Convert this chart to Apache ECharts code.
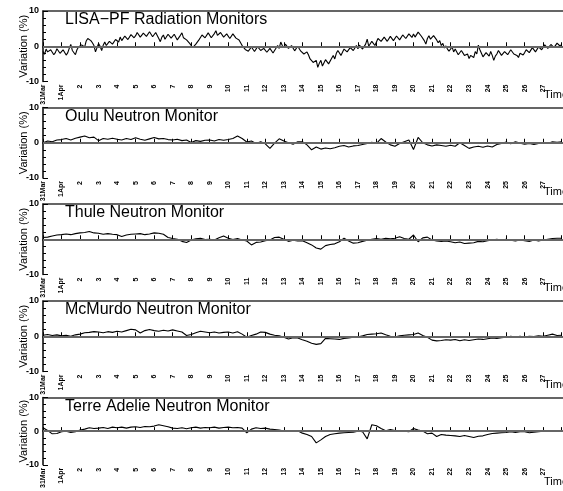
<!DOCTYPE html>
<html><head><meta charset="utf-8">
<script src="https://cdn.jsdelivr.net/npm/echarts@6/dist/echarts.min.js"></script>
<style>html,body{margin:0;padding:0;background:#fff}#c{width:563px;height:491px}</style>
</head><body><div id="c"></div>
<script>
// x tick labels (day 0 = 31 Mar)
const tickLabels = ['31Mar','1Apr','2','3','4','5','6','7','8','9','10','11','12','13','14','15','16','17','18','19','20','21','22','23','24','25','26','27'];
const titles = ['LISA\u2212PF Radiation Monitors','Oulu Neutron Monitor','Thule Neutron Monitor','McMurdo Neutron Monitor','Terre Adelie Neutron Monitor'];

// LISA-PF: 12 samples per day
const lisa = [
-1.5,-2.3,-0.8,-1.6,-2.0,-1.0,-1.2,-2.4,-1.8,-0.7,-1.0,-2.0,
-2.2,-1.0,-1.3,-2.5,-1.9,-0.6,0.5,-1.2,-1.6,-2.4,-1.0,-0.2,
-0.5,0.4,0.8,-0.2,1.5,2.2,2.7,1.6,1.0,0.2,-1.6,-0.4,
0.8,0.0,-1.2,0.3,1.2,0.2,0.5,1.4,1.6,0.6,1.0,1.9,
1.8,1.2,2.6,1.6,1.9,2.9,2.8,1.9,2.3,3.3,3.1,2.4,
3.0,3.9,3.8,2.6,2.9,3.7,4.0,2.8,3.2,4.1,3.6,2.7,
2.8,3.9,3.5,2.2,1.3,2.6,3.2,2.0,2.5,3.4,3.8,2.3,
2.4,3.4,3.0,1.8,2.0,3.1,3.8,2.4,2.6,1.8,1.5,0.8,
0.2,-0.4,-0.2,0.6,1.0,1.8,2.5,3.2,3.6,2.4,2.8,3.8,
3.5,2.4,2.7,3.6,4.4,3.1,3.0,3.9,3.8,2.6,2.9,3.5,
3.2,2.2,2.5,3.5,3.4,2.3,2.6,1.8,1.0,0.2,-0.3,-0.9,
-0.6,-1.4,-1.2,-0.2,-0.5,-1.5,-1.0,-0.1,-0.3,-1.2,-1.4,-0.6,
-0.8,-1.7,-1.5,-0.6,-0.9,-1.9,-1.6,-0.5,0.2,-0.6,1.2,0.2,
-0.4,0.6,0.4,-0.6,-0.9,0.2,-0.2,-1.3,-1.1,0.0,-0.5,-1.4,
-1.0,-2.2,-1.8,-1.6,-2.5,-3.6,-3.5,-4.6,-5.0,-4.0,-6.0,-4.8,
-4.0,-5.6,-5.2,-3.8,-3.6,-5.0,-4.5,-3.4,-2.6,-3.6,-2.0,-1.2,
-1.4,-2.6,-2.4,-0.8,-0.6,-1.6,-1.8,-0.4,0.0,-1.2,-0.9,0.2,
-0.7,0.3,0.2,-0.8,-0.4,0.6,2.0,0.0,0.4,1.4,1.0,0.2,
1.2,2.2,2.5,1.4,1.6,2.6,2.2,1.4,1.7,2.8,2.4,1.6,
2.0,2.9,2.6,1.8,2.1,3.2,3.0,2.2,2.4,3.5,3.2,2.5,
3.5,2.6,2.8,4.0,3.8,2.9,3.4,1.6,0.6,2.2,3.0,2.0,
2.2,3.0,2.8,1.8,1.0,1.6,0.2,0.8,-0.5,0.1,-0.8,-1.4,
-1.0,-0.2,-1.6,-0.8,-1.2,-2.4,-2.2,-1.2,-1.5,-2.6,-3.0,-2.2,
-3.5,-2.6,-2.5,-3.2,-1.5,-2.2,0.3,-1.0,-2.0,-3.0,-2.8,-1.8,
-2.0,-2.8,-1.5,-2.6,-4.0,-2.8,-2.2,-1.2,-1.6,-2.6,-2.4,-1.5,
-1.4,-2.4,-2.0,-1.0,-1.2,-2.2,-1.8,-2.6,-3.2,-2.0,-1.6,-2.5,
-1.8,-1.0,-0.8,-1.8,-1.4,-0.4,-0.6,-1.6,-1.2,-0.2,-0.3,-1.0,
-0.5,0.4,0.2,-0.6,-0.6,0.5,0.4,-0.4,-0.2,0.9,0.8,0.0,
0.6];

// Neutron monitors: 4 samples per day
const oulu = [
0.0,0.5,0.3,0.8, 0.9,1.2,0.8,1.3, 1.6,1.9,1.4,1.6, 0.6,1.2,1.0,1.3,
1.0,0.8,1.2,0.9, 1.4,1.0,0.7,1.1, 1.5,1.1,1.2,0.9, 0.8,1.0,0.6,0.8,
0.1,0.6,0.4,0.7, 0.8,0.5,0.9,0.7, 0.9,1.2,1.9,1.2, 0.2,0.5,-0.2,0.3,
-0.3,-1.6,-0.1,1.1, 0.5,0.0,-0.4,0.3, 0.3,-0.6,-2.0,-1.2, -1.8,-1.5,-1.7,-1.4,
-1.0,-0.8,-1.2,-0.9, -0.8,-0.5,-0.2,0.1, -0.2,1.2,0.2,-0.6, -1.0,-0.2,0.3,0.8,
-1.9,1.5,0.0,-0.6, -0.9,-0.6,-0.8,-1.0, -0.7,-1.0,0.0,-0.8, -1.6,-1.2,-1.0,-1.3,
-0.9,-1.2,-0.5,-0.2, 0.2,-0.3,0.3,-0.1, -0.4,-0.2,-0.5,-0.2, 0.0,-0.2,0.3,0.1,
0.3];
const thule = [
0.5,0.6,0.9,1.2, 1.3,1.5,1.3,1.6, 1.8,1.9,2.2,1.8, 1.7,1.4,1.6,1.4,
1.3,0.8,1.2,1.4, 1.5,1.6,1.3,1.5, 1.8,1.7,1.4,0.5, 0.2,0.0,-0.6,-0.9,
-0.2,0.1,0.3,-0.1, 0.0,-0.2,0.4,0.9, 0.3,-0.1,0.2,-0.2, -0.5,-1.6,-0.9,-0.8,
-0.4,-0.2,0.5,0.6, 0.0,-0.6,-0.3,-0.5, -0.4,-1.0,-1.6,-2.5, -2.8,-1.8,-1.5,-1.3,
-0.7,0.3,-0.5,-1.1, -1.0,-0.6,-0.3,0.0, 0.2,0.0,0.3,0.1, 0.3,0.7,0.2,0.0,
1.2,-0.7,0.4,0.6, -0.2,-0.5,-0.6,-0.5, -0.7,-1.0,-0.8,-1.2, -1.1,-1.0,-0.6,-0.7,
-0.4,-0.2,0.0,-0.3, 0.0,-0.3,-0.5,-0.2, -0.4,-0.6,-0.2,-0.5, -0.2,0.0,0.2,0.3,
0.3];
const mcmurdo = [
0.3,0.5,0.2,0.4, 0.1,0.3,0.0,0.4, 0.6,1.0,1.1,1.3, 1.2,1.0,1.3,1.1,
1.4,1.2,1.6,2.0, 1.8,0.9,1.6,1.9, 1.6,1.4,1.7,1.5, 1.8,1.5,1.2,0.2,
0.5,1.0,1.4,1.2, 1.0,1.2,0.9,1.1, 1.2,0.9,1.3,0.6, -0.3,0.2,0.6,1.2,
1.1,0.6,0.3,0.1, -0.3,-0.8,-0.4,-0.5, -1.0,-1.4,-2.0,-2.3, -2.1,-0.6,-0.7,-0.8,
-0.9,-0.6,-0.5,-0.3, -0.2,0.1,0.5,0.6, 0.7,0.9,0.4,0.0, -0.2,0.1,0.3,0.4,
0.5,0.9,0.2,-0.3, -1.1,-1.3,-1.2,-1.0, -1.1,-0.9,-1.3,-1.0, -1.2,-1.0,-0.8,-0.9,
-0.7,-0.5,-0.6,-0.4, -0.3,0.0,-0.2,0.0, -0.2,0.0,-0.1,0.1, 0.0,0.3,0.6,0.2,
0.3];
const terre = [
1.0,0.2,-0.8,-0.7, -0.2,0.0,-0.4,-0.2, 0.3,0.6,1.0,0.8, 0.9,1.1,0.8,1.2,
1.0,1.2,0.9,1.2, 1.3,1.1,1.4,1.3, 1.5,1.9,1.6,1.3, 0.9,0.8,1.0,0.7,
1.0,1.2,0.9,1.1, 1.0,1.2,0.9,1.1, 1.2,1.0,1.1,0.9, -0.5,0.6,1.0,0.8,
0.9,0.6,0.5,0.3, 0.0,-0.1,0.2,0.1, -0.6,-1.0,-1.6,-3.5, -2.6,-1.6,-1.0,-0.8,
-0.6,-0.5,-0.4,-0.3, 0.0,-0.2,-2.3,1.9, 1.6,0.8,0.1,0.5, 0.2,-0.1,0.0,-0.2,
0.8,0.3,0.0,-0.8, -0.6,-1.6,-1.0,-1.2, -1.3,-1.4,-1.6,-1.3, -1.6,-1.9,-1.5,-1.4,
-1.0,-0.7,-0.6,-0.5, -0.4,-0.2,-0.4,-0.2, -0.2,-0.5,-0.3,-0.2, 0.0,0.2,-0.1,0.2,
0.1];

const seriesData = [lisa, oulu, thule, mcmurdo, terre];
const perDay = [12, 4, 4, 4, 4];

const tops = [11, 107.5, 204, 301, 397.5];
const H = 70.5;
const XMAX = 28.07;
const FONT = 'Liberation Sans';

const grid = [], xAxis = [], yAxis = [], series = [], title = [], graphic = [];
tops.forEach((t, i) => {
  grid.push({left: 43, right: 0, top: t, height: H});
  xAxis.push({
    gridIndex: i, type: 'value', min: 0, max: XMAX, interval: 1,
    axisLine: {lineStyle: {color: '#000', width: 1.5}},
    axisTick: {inside: true, length: 4, lineStyle: {color: '#000', width: 1}},
    axisLabel: {rotate: 90, fontSize: 7, fontWeight: 'bold', fontFamily: FONT, color: '#000', margin: 3,
      formatter: v => { const k = Math.round(v); return (Math.abs(v - k) < 1e-6 && tickLabels[k]) ? tickLabels[k] : ''; }},
    splitLine: {show: false}
  });
  xAxis.push({
    gridIndex: i, type: 'value', position: 'top', min: 0, max: XMAX,
    axisLine: {show: true, lineStyle: {color: '#333', width: 1.5}},
    axisTick: {show: false}, axisLabel: {show: false}, splitLine: {show: false}
  });
  yAxis.push({
    gridIndex: i, type: 'value', min: -10, max: 10, interval: 10,
    name: 'Variation (%)', nameLocation: 'middle', nameGap: 14, nameMoveOverlap: false,
    nameTextStyle: {fontSize: 11, fontFamily: FONT, color: '#000'},
    axisLine: {show: true, lineStyle: {color: '#000', width: 1.5}},
    axisTick: {inside: true, length: 5, lineStyle: {color: '#000'}},
    minorTick: {show: true, splitNumber: 5, length: 3, lineStyle: {color: '#000'}},
    axisLabel: {fontSize: 9, fontWeight: 'bold', fontFamily: FONT, color: '#000', margin: 4},
    splitLine: {show: false}
  });
  const vals = seriesData[i];
  series.push({
    type: 'line', xAxisIndex: 2 * i, yAxisIndex: i, showSymbol: false, animation: false,
    data: vals.map((v, k) => [k / perDay[i], v]),
    lineStyle: {color: '#000', width: 1.1},
    markLine: {silent: true, symbol: 'none', label: {show: false}, animation: false,
      lineStyle: {color: '#666', type: 'solid', width: 1.8}, data: [{yAxis: 0}]},
    z: 3
  });
  title.push({text: titles[i], left: 65, top: t + 1, padding: 0,
    textStyle: {fontSize: 16, fontWeight: 'normal', fontFamily: FONT, color: '#000'}});
  graphic.push({type: 'text', left: 544, top: t + H + 8,
    style: {text: 'Time', fontSize: 11, fontFamily: FONT, fill: '#000'}});
});

const chart = echarts.init(document.getElementById('c'), null, {renderer: 'canvas'});
chart.setOption({animation: false, backgroundColor: '#fff', grid, xAxis, yAxis, series, title, graphic});
</script></body></html>
